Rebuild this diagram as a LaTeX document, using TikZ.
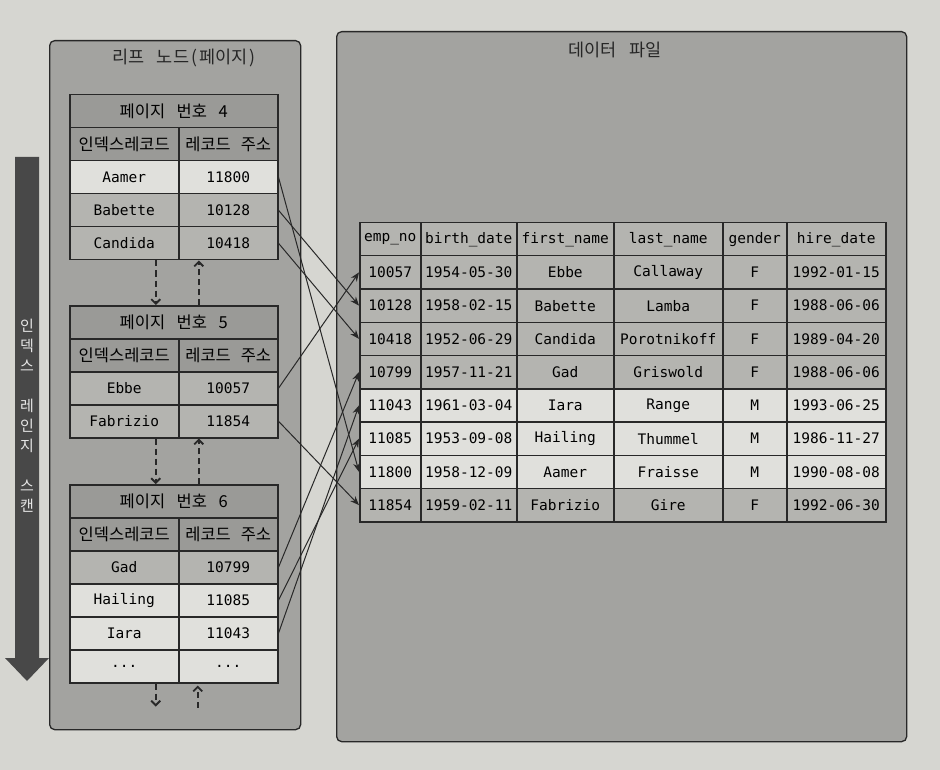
\documentclass[tikz,border=0pt]{standalone}
\usepackage{fontspec}
\setmainfont{Noto Sans CJK KR}
\setmonofont{DejaVu Sans Mono}
\newfontfamily\kr{Noto Sans CJK KR}
\usetikzlibrary{arrows.meta,calc}
\definecolor{paper}{RGB}{214,214,209}
\definecolor{boxfill}{RGB}{163,163,160}
\definecolor{cellmid}{RGB}{180,180,176}
\definecolor{celldark}{RGB}{154,154,151}
\definecolor{celllight}{RGB}{224,224,220}
\definecolor{scanc}{RGB}{72,72,72}
\definecolor{linec}{RGB}{40,40,40}
\begin{document}
\begin{tikzpicture}[x=1pt,y=-1pt,
  bigbox/.style={draw=linec, line width=1.3pt, rounded corners=5pt, fill=boxfill, anchor=north west, inner sep=0pt},
  boxtitle/.style={font=\kr\fontsize{17.5}{17.5}\selectfont, text=black!85},
  cell/.style={draw=linec, line width=1.5pt, minimum height=33pt, inner sep=0pt, anchor=north west, fill=cellmid, font=\ttfamily\fontsize{14.5}{14.5}\selectfont, text=black},
  dcell/.style={cell, minimum height=33.25pt},
  krcell/.style={cell, font=\kr\fontsize{16.5}{16.5}\selectfont, fill=celldark},
  keycell/.style={cell, minimum width=109pt},
  addrcell/.style={cell, minimum width=99pt},
  link/.style={draw=linec, line width=1pt, -{Stealth[length=9pt,width=7pt]}},
  pagelink/.style={draw=linec, line width=1.8pt, dash pattern=on 6pt off 4pt, -{Straight Barb[length=4.5pt,width=9pt]}},
  scantext/.style={font=\kr\fontsize{15}{20}\selectfont, text=black!10, align=center}
]
\useasboundingbox (0,0) rectangle (940,770);
\fill[paper] (0,0) rectangle (940,770);

% scan arrow
\fill[scanc] (15,157) -- (39,157) -- (39,658) -- (49,658) -- (27,681) -- (5,658) -- (15,658) -- cycle;
\node[scantext] (scanlbl) at (27,416) {인\\덱\\스\\~\\레\\인\\지\\~\\스\\캔};

% leaf box
\node[bigbox, minimum width=251pt, minimum height=689pt] (leaf) at (49,40) {};
\node[boxtitle] (leaftitle) at (184,58) {리프\hspace{0.7em}노드\hspace{0.15em}(\hspace{0.1em}페이지\hspace{0.1em})};

% data box
\node[bigbox, minimum width=570pt, minimum height=710pt] (data) at (336,31) {};
\node[boxtitle] (datatitle) at (615,50) {데이터\hspace{0.7em}파일};

% page 4
\node[krcell, minimum width=208pt] (p4h) at (69,94) {페이지\hspace{0.7em}번호\hspace{0.7em}4};
\node[krcell, minimum width=109pt] (p4ck) at (69,127) {인덱스레코드};
\node[krcell, minimum width=99pt] (p4ca) at (178,127) {레코드\hspace{0.6em}주소};
\node[keycell, fill=celllight] (p4k1) at (69,160) {Aamer};
\node[addrcell, fill=celllight] (p4a1) at (178,160) {11800};
\node[keycell] (p4k2) at (69,193) {Babette};
\node[addrcell] (p4a2) at (178,193) {10128};
\node[keycell] (p4k3) at (69,226) {Candida};
\node[addrcell] (p4a3) at (178,226) {10418};

% page 5
\node[krcell, minimum width=208pt] (p5h) at (69,305) {페이지\hspace{0.7em}번호\hspace{0.7em}5};
\node[krcell, minimum width=109pt] (p5ck) at (69,338) {인덱스레코드};
\node[krcell, minimum width=99pt] (p5ca) at (178,338) {레코드\hspace{0.6em}주소};
\node[keycell] (p5k1) at (69,371) {Ebbe};
\node[addrcell] (p5a1) at (178,371) {10057};
\node[keycell] (p5k2) at (69,404) {Fabrizio};
\node[addrcell] (p5a2) at (178,404) {11854};

% page 6
\node[krcell, minimum width=208pt] (p6h) at (69,484) {페이지\hspace{0.7em}번호\hspace{0.7em}6};
\node[krcell, minimum width=109pt] (p6ck) at (69,517) {인덱스레코드};
\node[krcell, minimum width=99pt] (p6ca) at (178,517) {레코드\hspace{0.6em}주소};
\node[keycell] (p6k1) at (69,550) {Gad};
\node[addrcell] (p6a1) at (178,550) {10799};
\node[keycell, fill=celllight] (p6k2) at (69,583) {Hailing};
\node[addrcell, fill=celllight] (p6a2) at (178,583) {11085};
\node[keycell, fill=celllight] (p6k3) at (69,616) {Iara};
\node[addrcell, fill=celllight] (p6a3) at (178,616) {11043};
\node[keycell, fill=celllight] (p6k4) at (69,649) {...};
\node[addrcell, fill=celllight] (p6a4) at (178,649) {...};

% page links
\coordinate (d45s) at ($(p4k3.south)+(31.5,0)$);
\coordinate (d45e) at (d45s |- p5h.north);
\coordinate (u54s) at ($(p5h.north)+(25,0)$);
\coordinate (u54e) at (u54s |- p4a3.south);
\draw[pagelink] (d45s) -- (d45e);
\draw[pagelink] (u54s) -- (u54e);
\coordinate (d56s) at ($(p5k2.south)+(31.5,0)$);
\coordinate (d56e) at (d56s |- p6h.north);
\coordinate (u65s) at ($(p6h.north)+(25,0)$);
\coordinate (u65e) at (u65s |- p5a2.south);
\draw[pagelink] (d56s) -- (d56e);
\draw[pagelink] (u65s) -- (u65e);
\coordinate (d6ns) at ($(p6k4.south)+(31.5,0)$);
\coordinate (d6ne) at ($(d6ns)+(0,23)$);
\coordinate (u6ns) at ($(p6h.north |- p6k4.south)+(24,24)$);
\coordinate (u6ne) at (u6ns |- p6a4.south);
\draw[pagelink] (d6ns) -- (d6ne);
\draw[pagelink] (u6ns) -- ($(u6ne)+(0,2)$);

% data table header
\node[dcell, minimum width=61pt] (th1) at (359,222) {emp\_no};
\node[dcell, minimum width=96pt] (th2) at (420,222) {birth\_date};
\node[dcell, minimum width=97pt] (th3) at (516,222) {first\_name};
\node[dcell, minimum width=109pt] (th4) at (613,222) {last\_name};
\node[dcell, minimum width=64pt] (th5) at (722,222) {gender};
\node[dcell, minimum width=99pt] (th6) at (786,222) {hire\_date};

% data rows
\foreach \i/\a/\b/\c/\d/\e/\f/\sh in {
  1/10057/1954-05-30/Ebbe/Callaway/F/1992-01-15/cellmid,
  2/10128/1958-02-15/Babette/Lamba/F/1988-06-06/cellmid,
  3/10418/1952-06-29/Candida/Porotnikoff/F/1989-04-20/cellmid,
  4/10799/1957-11-21/Gad/Griswold/F/1988-06-06/cellmid,
  5/11043/1961-03-04/Iara/Range/M/1993-06-25/celllight,
  6/11085/1953-09-08/Hailing/Thummel/M/1986-11-27/celllight,
  7/11800/1958-12-09/Aamer/Fraisse/M/1990-08-08/celllight,
  8/11854/1959-02-11/Fabrizio/Gire/F/1992-06-30/cellmid}{
  \pgfmathsetmacro{\yy}{255+(\i-1)*33.25}
  \node[dcell, fill=\sh, minimum width=61pt] (r\i c1) at (359,\yy) {\a};
  \node[dcell, fill=\sh, minimum width=96pt] (r\i c2) at (420,\yy) {\b};
  \node[dcell, fill=\sh, minimum width=97pt] (r\i c3) at (516,\yy) {\c};
  \node[dcell, fill=\sh, minimum width=109pt] (r\i c4) at (613,\yy) {\d};
  \node[dcell, fill=\sh, minimum width=64pt] (r\i c5) at (722,\yy) {\e};
  \node[dcell, fill=\sh, minimum width=99pt] (r\i c6) at (786,\yy) {\f};
}

% index -> record links
\draw[link] (p4a1.east) -- (r7c1.west);
\draw[link] (p4a2.east) -- (r2c1.west);
\draw[link] (p4a3.east) -- (r3c1.west);
\draw[link] (p5a1.east) -- (r1c1.west);
\draw[link] (p5a2.east) -- (r8c1.west);
\draw[link] (p6a1.east) -- (r4c1.west);
\draw[link] (p6a2.east) -- (r6c1.west);
\draw[link] (p6a3.east) -- (r5c1.west);
\end{tikzpicture}
\end{document}
